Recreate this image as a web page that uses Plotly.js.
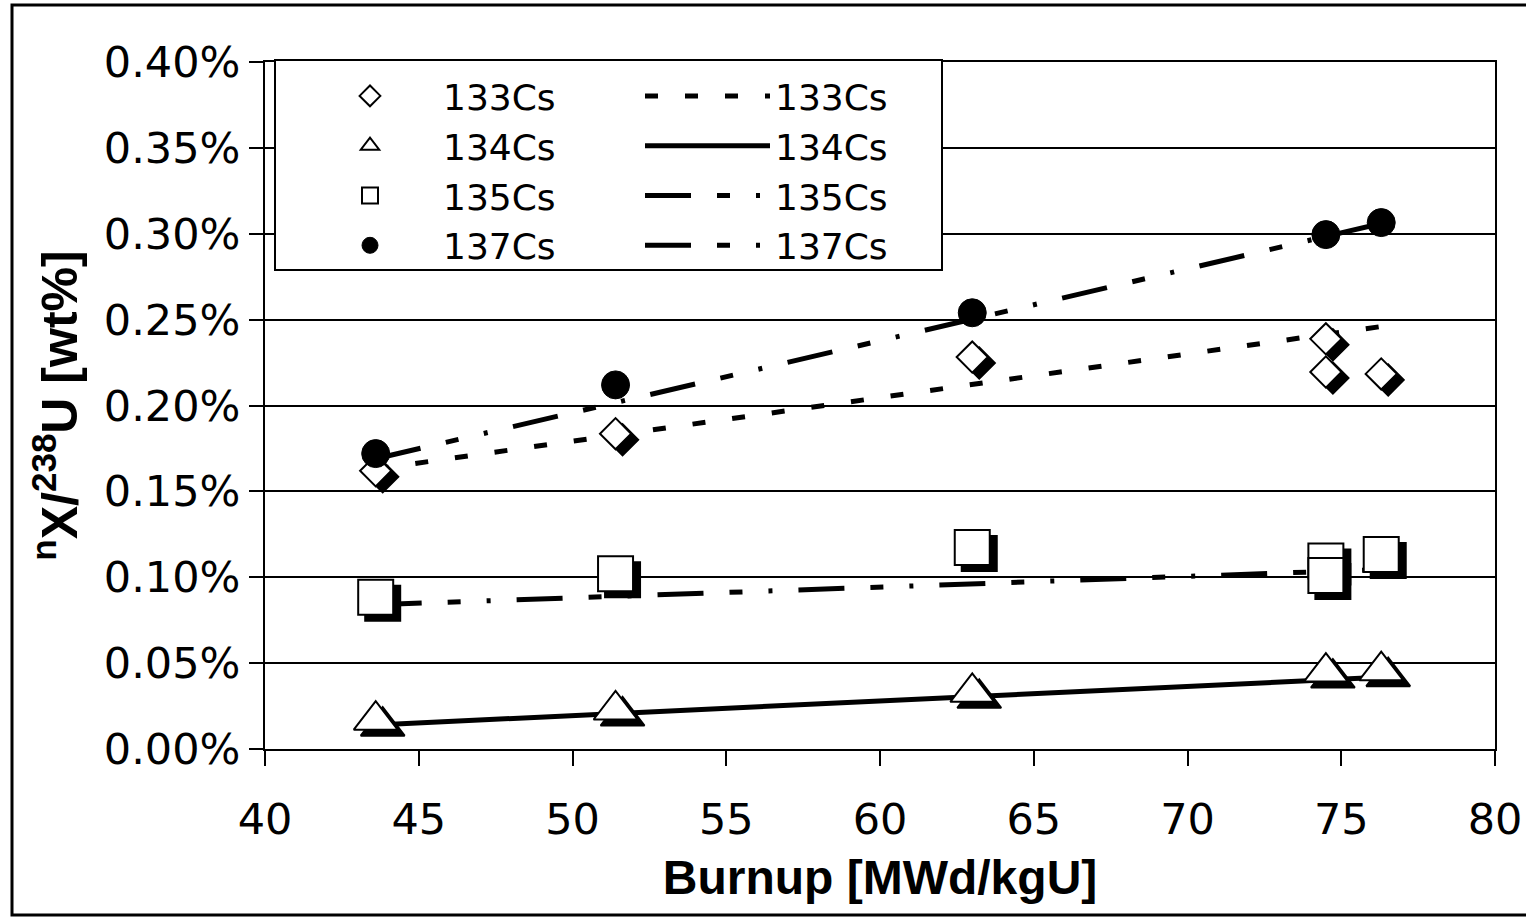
<!DOCTYPE html>
<html>
<head>
<meta charset="utf-8">
<script src="https://cdn.plot.ly/plotly-3.0.1.min.js"></script>
<style>
html,body{margin:0;padding:0;background:#fff;}
#chart{width:1526px;height:918px;}
</style>
</head>
<body>
<div id="chart"></div>
<script>
// ---- data (burnup in MWd/kgU, ratios in wt%) ----
var burnup133 = [43.6, 51.4, 63.0, 74.5, 74.5, 76.3];
var cs133     = [0.162, 0.1836, 0.2282, 0.2388, 0.2195, 0.2184];

var burnup134 = [43.6, 51.4, 63.0, 74.5, 76.3];
var cs134     = [0.0168, 0.0227, 0.0330, 0.0448, 0.0456];

var burnup135 = [43.6, 51.4, 63.0, 74.5, 74.5, 76.3];
var cs135     = [0.0883, 0.1021, 0.1173, 0.1094, 0.1010, 0.1133];

var burnup137 = [43.6, 51.4, 63.0, 74.5, 76.3];
var cs137     = [0.172, 0.212, 0.254, 0.2995, 0.3065];

// linear trend lines (start/end values)
var fitX   = [43.6, 76.3];
var fit133 = [0.163, 0.246];
var fit134 = [0.014, 0.0418];
var fit135 = [0.084, 0.1045];
var fit137 = [0.169, 0.306];

var seriesNames = ['133Cs', '134Cs', '135Cs', '137Cs'];
var xTickVals = [40, 45, 50, 55, 60, 65, 70, 75, 80];

// ---- geometry helpers ----
var W = 1526, H = 918;
var M = {l: 265, r: 31, t: 62, b: 169};
var PW = W - M.l - M.r, PH = H - M.t - M.b;
var xr = [40, 80], yr = [0, 0.4];
var shadowDx = 7, shadowDy = 6; // px offset of marker shadow
var sxShift = shadowDx * (xr[1] - xr[0]) / PW;
var syShift = shadowDy * (yr[1] - yr[0]) / PH;
function px2paperX(p){ return (p - M.l) / PW; }
function px2paperY(p){ return (H - M.b - p) / PH; }

var tickFont = {family: 'DejaVu Sans', size: 43, color: '#000'};
var legendFont = {family: 'DejaVu Sans', size: 36, color: '#000'};
var xTitleFont = {family: 'Liberation Sans', size: 48, color: '#000', weight: 'bold'};
var yTitleFont = {family: 'Liberation Sans', size: 50, color: '#000', weight: 'bold'};

var traces = [];
// trend lines (main axes)
var fits = [fit133, fit134, fit135, fit137];
var dashes = ['13px,27px', 'solid', '46px,26px,13px,26px,4px,26px', '46px,26px,13px,26px,4px,26px'];
var widths = [5, 5, 5, 5];
for (var i = 0; i < 4; i++) {
  traces.push({
    x: fitX, y: fits[i], type: 'scatter', mode: 'lines', name: seriesNames[i],
    line: {color: '#000', width: widths[i], dash: dashes[i]},
    legend: 'legend2', hoverinfo: 'skip'
  });
}
// marker shadows (x2/y2 shifted axes)
var mx = [burnup133, burnup134, burnup135];
var my = [cs133, cs134, cs135];
var syms = ['diamond', 'triangle-up', 'square'];
var sizes = [24, 38, 35];
for (var j = 0; j < 3; j++) {
  traces.push({
    x: mx[j], y: my[j], type: 'scatter', mode: 'markers', xaxis: 'x2', yaxis: 'y2',
    showlegend: false, hoverinfo: 'skip',
    marker: {symbol: syms[j], size: sizes[j], color: '#000', line: {color: '#000', width: 2}}
  });
}
// markers (x3/y3 overlay, same scale as main)
for (var k = 0; k < 3; k++) {
  traces.push({
    x: mx[k], y: my[k], type: 'scatter', mode: 'markers', xaxis: 'x3', yaxis: 'y3',
    name: seriesNames[k], legend: 'legend',
    marker: {symbol: syms[k], size: sizes[k], color: '#fff', line: {color: '#000', width: 2}}
  });
}
traces.push({
  x: burnup137, y: cs137, type: 'scatter', mode: 'markers', xaxis: 'x3', yaxis: 'y3',
  name: seriesNames[3], legend: 'legend',
  marker: {symbol: 'circle', size: 28, color: '#000', line: {color: '#000', width: 1}}
});

var layout = {
  width: W, height: H,
  margin: M,
  paper_bgcolor: '#fff', plot_bgcolor: '#fff',
  showlegend: true,
  xaxis: {
    range: xr, tickvals: xTickVals, ticks: 'outside', ticklen: 15, tickwidth: 2, tickcolor: '#000',
    showline: true, linecolor: '#000', linewidth: 2, mirror: true, showgrid: false, zeroline: false,
    tickfont: tickFont, ticklabelstandoff: 16,
    title: {text: 'Burnup [MWd/kgU]', font: xTitleFont, standoff: 18}
  },
  yaxis: {
    range: yr, dtick: 0.05, tickformat: '.2f', ticksuffix: '%', ticks: 'outside', ticklen: 14, tickwidth: 2,
    tickcolor: '#000', showline: true, linecolor: '#000', linewidth: 2, mirror: true,
    showgrid: true, gridcolor: '#000', gridwidth: 2, zeroline: false,
    tickfont: tickFont,
    title: {text: '<sup>n</sup>X/<sup>238</sup>U [wt%]', font: yTitleFont, standoff: 10}
  },
  xaxis2: {range: [xr[0] - sxShift, xr[1] - sxShift], overlaying: 'x', visible: false, anchor: 'y2'},
  yaxis2: {range: [yr[0] + syShift, yr[1] + syShift], overlaying: 'y', visible: false, anchor: 'x2'},
  xaxis3: {range: xr, overlaying: 'x', visible: false, anchor: 'y3'},
  yaxis3: {range: yr, overlaying: 'y', visible: false, anchor: 'x3'},
  legend: {
    x: px2paperX(297), y: px2paperY(66), xanchor: 'left', yanchor: 'top',
    bgcolor: 'rgba(0,0,0,0)', borderwidth: 0, font: legendFont, tracegroupgap: 0, itemwidth: 136,
    traceorder: 'normal'
  },
  legend2: {
    x: px2paperX(640), y: px2paperY(66), xanchor: 'left', yanchor: 'top',
    bgcolor: 'rgba(0,0,0,0)', borderwidth: 0, font: legendFont, tracegroupgap: 0, itemwidth: 125,
    traceorder: 'normal'
  },
  shapes: [
    {type: 'rect', xref: 'paper', yref: 'paper', layer: 'above',
     x0: px2paperX(275), x1: px2paperX(942), y0: px2paperY(270), y1: px2paperY(60),
     fillcolor: '#fff', line: {color: '#000', width: 2}},
    {type: 'rect', xref: 'paper', yref: 'paper', layer: 'above',
     x0: px2paperX(12), x1: px2paperX(1540), y0: px2paperY(915), y1: px2paperY(5),
     fillcolor: 'rgba(0,0,0,0)', line: {color: '#000', width: 3}}
  ]
};

Plotly.newPlot('chart', traces, layout, {displayModeBar: false, staticPlot: true});
</script>
</body>
</html>
